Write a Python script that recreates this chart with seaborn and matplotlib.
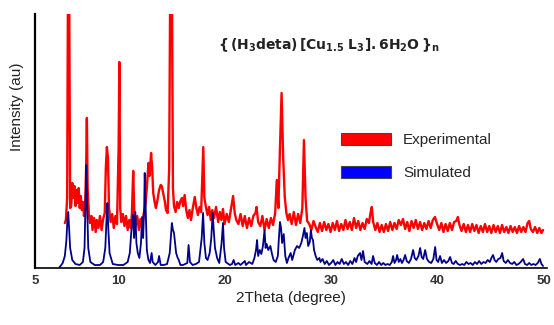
import pandas as pd
import matplotlib
matplotlib.use("Agg")
import matplotlib.pyplot as plt
import seaborn as sns
from matplotlib.patches import Patch

# experimental pattern (2theta, intensity in au)
exp_theta = [5.00, 5.10, 5.22, 5.30, 5.40, 5.50, 5.60, 5.70, 5.80, 5.90, 6.00, 6.10, 6.20, 6.30,
             6.40, 6.50, 6.60, 6.70, 6.80, 6.90, 7.00, 7.07, 7.14, 7.25, 7.35, 7.50, 7.60, 7.75,
             7.90, 8.00, 8.15, 8.30, 8.45, 8.60, 8.75, 8.85, 8.95, 9.05, 9.15, 9.30, 9.45, 9.60,
             9.75, 9.90, 10.05, 10.12, 10.20, 10.30, 10.45, 10.60, 10.75, 10.90, 11.05, 11.20,
             11.30, 11.42, 11.52, 11.65, 11.80, 11.95, 12.10, 12.25, 12.40, 12.55, 12.70, 12.85,
             12.95, 13.10, 13.20, 13.30, 13.45, 13.55, 13.70, 13.85, 14.00, 14.10, 14.25, 14.40,
             14.50, 14.65, 14.80, 14.90, 15.05, 15.15, 15.25, 15.40, 15.55, 15.70, 15.85, 16.00,
             16.10, 16.25, 16.40, 16.55, 16.70, 16.85, 17.00, 17.20, 17.35, 17.50, 17.65, 17.80,
             17.92, 18.00, 18.10, 18.25, 18.40, 18.55, 18.70, 18.85, 19.00, 19.20, 19.40, 19.55,
             19.70, 19.85, 20.00, 20.20, 20.40, 20.60, 20.80, 20.95, 21.10, 21.30, 21.50, 21.70,
             21.90, 22.10, 22.30, 22.50, 22.70, 22.90, 23.00, 23.15, 23.35, 23.55, 23.75, 23.95,
             24.15, 24.35, 24.55, 24.75, 24.90, 25.05, 25.20, 25.35, 25.50, 25.65, 25.80, 25.95,
             26.10, 26.30, 26.50, 26.70, 26.90, 27.10, 27.30, 27.45, 27.60, 27.75, 27.95, 28.15,
             28.35, 28.55, 28.75, 28.95, 29.15, 29.35, 29.55, 29.75, 29.95, 30.15, 30.35, 30.55,
             30.75, 30.95, 31.15, 31.35, 31.55, 31.75, 31.95, 32.15, 32.35, 32.55, 32.75, 32.95,
             33.15, 33.35, 33.55, 33.70, 33.82, 33.95, 34.15, 34.35, 34.55, 34.75, 34.95, 35.15,
             35.35, 35.55, 35.75, 35.95, 36.15, 36.35, 36.55, 36.75, 36.95, 37.15, 37.35, 37.55,
             37.75, 37.95, 38.15, 38.35, 38.55, 38.75, 38.95, 39.15, 39.35, 39.55, 39.75, 39.95,
             40.15, 40.35, 40.55, 40.75, 40.95, 41.15, 41.35, 41.55, 41.75, 41.90, 42.05, 42.25,
             42.45, 42.65, 42.85, 43.05, 43.25, 43.45, 43.65, 43.85, 44.05, 44.25, 44.45, 44.65,
             44.85, 45.05, 45.25, 45.45, 45.65, 45.85, 46.05, 46.25, 46.45, 46.65, 46.85, 47.05,
             47.25, 47.45, 47.65, 47.85, 48.05, 48.25, 48.45, 48.60, 48.75, 48.95, 49.15, 49.35,
             49.55, 49.75, 49.90]
exp_int = [45, 48, 70, 300, 300, 60, 62, 85, 70, 82, 62, 78, 65, 80,
           60, 72, 58, 66, 52, 60, 100, 150, 80, 55, 45, 52, 38, 50,
           36, 48, 40, 52, 38, 49, 55, 100, 121, 110, 60, 46, 54, 40,
           52, 44, 120, 206, 60, 46, 54, 42, 52, 38, 48, 40,
           55, 97, 55, 42, 52, 38, 49, 40, 54, 62, 80, 105,
           92, 115, 100, 75, 65, 60, 68, 78, 83, 82, 74, 66,
           58, 55, 100, 300, 300, 80, 62, 56, 66, 60, 67, 70,
           62, 73, 58, 50, 58, 48, 59, 71, 60, 53, 61, 56,
           95, 121, 70, 61, 53, 61, 48, 58, 50, 61, 46, 56,
           48, 59, 44, 54, 46, 59, 72, 55, 48, 44, 54, 42,
           52, 40, 50, 42, 52, 55, 61, 46, 42, 52, 38, 49,
           40, 50, 43, 55, 88, 60, 120, 175, 110, 71, 55, 48,
           54, 44, 56, 43, 54, 45, 60, 128, 70, 47, 44, 38,
           47, 41, 36, 45, 37, 46, 38, 44, 36, 45, 38, 47,
           37, 44, 38, 48, 39, 46, 38, 50, 40, 47, 38, 45,
           39, 49, 45, 55, 61, 46, 38, 45, 36, 43, 36, 44,
           37, 46, 38, 45, 39, 48, 43, 49, 39, 46, 37, 47,
           40, 48, 39, 46, 38, 45, 39, 47, 40, 48, 51, 44,
           38, 45, 36, 44, 37, 45, 38, 46, 47, 51, 43, 37,
           44, 36, 43, 36, 44, 37, 43, 35, 42, 36, 44, 36,
           42, 35, 43, 36, 42, 35, 43, 36, 41, 35, 42, 36,
           41, 35, 42, 36, 41, 36, 45, 47, 39, 36, 41, 35,
           40, 35, 38]

# simulated pattern
sim_theta = [4.50, 4.60, 4.80, 5.00, 5.15, 5.25, 5.32, 5.40, 5.50, 5.70, 6.00, 6.40, 6.70, 6.85,
             6.95, 7.02, 7.10, 7.20, 7.40, 7.80, 8.30, 8.60, 8.80, 8.92, 9.00, 9.08, 9.20, 9.50,
             10.00, 10.50, 10.90, 11.10, 11.30, 11.40, 11.50, 11.62, 11.72, 11.85, 12.00, 12.15,
             12.25, 12.35, 12.45, 12.50, 12.60, 12.70, 12.85, 13.00, 13.15, 13.25, 13.50, 13.75,
             13.85, 14.00, 14.30, 14.60, 14.85, 14.95, 15.05, 15.15, 15.25, 15.35, 15.45, 15.60,
             15.70, 15.85, 16.10, 16.50, 16.62, 16.75, 17.00, 17.30, 17.60, 17.85, 17.98, 18.10,
             18.25, 18.40, 18.60, 18.75, 18.88, 18.98, 19.10, 19.30, 19.50, 19.72, 19.85, 19.95,
             20.10, 20.50, 20.70, 20.85, 21.00, 21.30, 21.50, 21.90, 22.00, 22.30, 22.60, 22.80,
             22.95, 23.05, 23.15, 23.30, 23.45, 23.60, 23.75, 23.85, 23.95, 24.10, 24.30, 24.45,
             24.60, 24.80, 25.00, 25.10, 25.20, 25.30, 25.40, 25.55, 25.70, 25.85, 26.00, 26.20,
             26.35, 26.60, 26.80, 27.00, 27.20, 27.35, 27.50, 27.60, 27.72, 27.85, 28.00, 28.10,
             28.20, 28.30, 28.40, 28.55, 28.70, 28.90, 29.00, 29.20, 29.40, 29.60, 29.80, 30.00,
             30.20, 30.40, 30.60, 30.80, 31.00, 31.20, 31.40, 31.60, 31.80, 32.00, 32.20, 32.35,
             32.50, 32.72, 32.85, 33.00, 33.15, 33.40, 33.60, 33.80, 33.94, 34.10, 34.30, 34.50,
             34.70, 34.90, 35.10, 35.30, 35.50, 35.70, 35.82, 35.95, 36.10, 36.20, 36.35, 36.50,
             36.65, 36.80, 36.95, 37.10, 37.30, 37.50, 37.70, 37.85, 38.00, 38.20, 38.36, 38.50,
             38.65, 38.83, 39.00, 39.20, 39.40, 39.60, 39.77, 39.90, 40.05, 40.23, 40.40, 40.60,
             40.80, 41.00, 41.17, 41.35, 41.50, 41.70, 41.90, 42.10, 42.30, 42.50, 42.70, 42.90,
             43.10, 43.30, 43.50, 43.70, 43.90, 44.10, 44.30, 44.50, 44.70, 44.90, 45.05, 45.20,
             45.35, 45.50, 45.70, 45.90, 46.06, 46.20, 46.40, 46.60, 46.80, 47.00, 47.20, 47.40,
             47.60, 47.80, 48.03, 48.20, 48.40, 48.60, 48.80, 49.00, 49.20, 49.40, 49.60, 49.75,
             49.90]
sim_int = [1, 2, 5, 12, 28, 50, 56, 40, 20, 8, 4, 3, 6, 20,
           70, 103, 60, 20, 6, 3, 3, 6, 20, 50, 65, 40, 15, 4,
           3, 3, 6, 15, 45, 53, 30, 56, 25, 15, 10, 25,
           51, 30, 60, 95, 55, 18, 8, 5, 15, 6, 3, 6,
           12, 3, 3, 4, 15, 30, 45, 38, 35, 25, 15, 10,
           8, 3, 3, 5, 23, 6, 3, 4, 6, 30, 55, 25,
           10, 8, 15, 30, 55, 38, 20, 10, 5, 25, 45, 20,
           6, 3, 4, 8, 3, 5, 3, 7, 3, 6, 4, 10,
           18, 28, 12, 18, 14, 22, 38, 20, 24, 18, 22, 14,
           8, 6, 12, 30, 46, 40, 25, 34, 12, 5, 10, 15,
           8, 18, 22, 20, 25, 32, 40, 30, 35, 22, 26, 38,
           30, 28, 18, 12, 8, 10, 6, 9, 4, 7, 3, 5,
           8, 3, 6, 4, 9, 4, 6, 3, 7, 4, 10, 6,
           12, 15, 8, 17, 6, 4, 7, 4, 12, 5, 3, 6,
           3, 5, 3, 4, 3, 6, 12, 5, 8, 13, 6, 9,
           5, 8, 13, 7, 5, 9, 18, 10, 8, 12, 20, 11,
           9, 18, 9, 6, 5, 9, 21, 8, 6, 12, 5, 8,
           5, 7, 11, 5, 4, 7, 4, 3, 4, 3, 6, 4,
           5, 3, 6, 4, 7, 4, 6, 5, 8, 6, 10, 13,
           8, 6, 9, 10, 15, 7, 5, 8, 5, 4, 6, 3,
           4, 6, 9, 4, 3, 5, 3, 4, 3, 5, 9, 4,
           2]

tick_pos = [2.2, 10, 20, 30, 40, 50]
tick_labels = ["5", "10", "20", "30", "40", "50"]

exp_df = pd.DataFrame({"theta": exp_theta, "intensity": exp_int})
sim_df = pd.DataFrame({"theta": sim_theta, "intensity": sim_int})

sns.set_style("white")
plt.rcParams["font.family"] = ["Liberation Sans", "DejaVu Sans"]
plt.rcParams["mathtext.fontset"] = "dejavusans"
plt.rcParams["mathtext.default"] = "bf"

fig = plt.figure(figsize=(5.54, 3.25), dpi=100)
ax = fig.add_axes([35 / 554, 57 / 325, 512 / 554, 254 / 325])

sns.lineplot(data=exp_df, x="theta", y="intensity", color="#ff0000", linewidth=1.7,
             estimator=None, sort=False, ax=ax)
sns.lineplot(data=sim_df, x="theta", y="intensity", color="#00008b", linewidth=1.3,
             estimator=None, sort=False, ax=ax)

ax.set_xlim(2.2, 50.27)
ax.set_ylim(0, 254)
ax.set_xticks(tick_pos)
ax.set_xticklabels(tick_labels, fontweight="bold", color="#333333", fontsize=9.5)
ax.set_yticks([])
ax.tick_params(axis="x", direction="out", length=3, width=0.8, color="black", pad=2)

for s in ["top", "right"]:
    ax.spines[s].set_visible(False)
ax.spines["left"].set_color("black")
ax.spines["left"].set_linewidth(1.6)
ax.spines["bottom"].set_color("black")
ax.spines["bottom"].set_linewidth(1.2)

ax.set_xlabel("2Theta (degree)", fontsize=11, color="#222222", labelpad=3)
ax.set_ylabel("Intensity (au)", fontsize=11, color="#222222")
ax.yaxis.set_label_coords(-0.022, 0.634)

handles = [Patch(facecolor="#ff0000", edgecolor="#444444", linewidth=0.8, label="Experimental"),
           Patch(facecolor="#0000ff", edgecolor="#444444", linewidth=0.8, label="Simulated")]
fig.legend(handles=handles, loc="upper left", bbox_to_anchor=(341 / 554, 1 - 133 / 325),
           frameon=False, fontsize=11, handlelength=3.3, handleheight=0.85,
           handletextpad=0.75, labelspacing=1.2, borderpad=0, borderaxespad=0)

fig.text(218 / 554, 1 - 45 / 325,
         r"$\{\,(H_3deta)\,[Cu_{1.5}\ L_3].6H_2O\,\}_n$",
         fontsize=10, color="#222222", ha="left", va="center")

fig.savefig("out.png", dpi=100)
